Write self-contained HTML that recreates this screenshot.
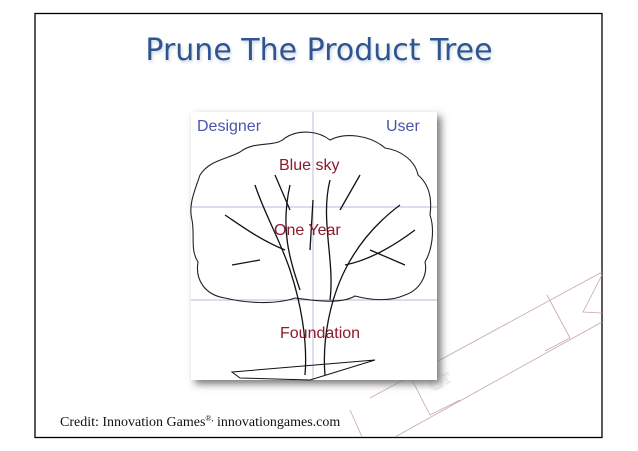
<!DOCTYPE html>
<html><head><style>
body{margin:0;background:#fff;width:638px;height:451px;overflow:hidden;position:relative}
</style></head><body>
<svg width="638" height="451" style="position:absolute;left:0;top:0">
<defs><filter id="sh" x="-10%" y="-10%" width="130%" height="130%"><feGaussianBlur stdDeviation="4"/></filter>
<filter id="ts"><feGaussianBlur stdDeviation="1.5"/></filter></defs>
<rect x="35" y="13.5" width="567" height="424" fill="#fff" stroke="#000" stroke-width="1.3"/>
<!-- ribbon -->
<g fill="none" stroke="#c9a7a7" stroke-width="0.8">
<path d="M370 398 L602 272"/><path d="M395 437 L602 322"/>
<path d="M407 370 L430 415 L460 400"/><path d="M547 295 L570 338 L545 351"/>
<path d="M602 275 L583 312 L602 313"/>
<path d="M350 410 L362 437"/>
</g>
<text x="432" y="392" font-family="Liberation Serif,serif" font-size="22" fill="#fff" stroke="#ddd" stroke-width="0.5" transform="rotate(-28 432 392)">Or</text>
<!-- image shadow -->
<rect x="195" y="116" width="246" height="268" fill="#777" filter="url(#sh)"/>
<rect x="191" y="112" width="246" height="268" fill="#fff"/>
<!-- grid -->
<g stroke="#9aa0d0" stroke-width="0.7">
<line x1="313" y1="112" x2="313" y2="380"/><line x1="191" y1="207" x2="437" y2="207"/><line x1="191" y1="300" x2="437" y2="300"/>
</g>
<!-- canopy -->
<path d="M225 298 C205 295 195 280 198 262 C190 250 195 235 192 220 C188 205 195 190 200 175 C210 160 225 160 240 152 C255 140 275 148 285 138 C300 128 320 132 330 140 C345 132 370 135 385 148 C400 150 415 160 418 175 C430 185 432 200 430 215 C435 230 432 250 425 262 C428 275 420 290 405 295 C390 302 370 300 355 296 C340 305 310 300 295 298 C275 305 245 303 225 298Z" fill="none" stroke="#222" stroke-width="1.1"/>
<!-- trunk and branches -->
<g fill="none" stroke="#111" stroke-width="1.3">
<path d="M305 375 C308 340 300 300 290 270 C280 240 265 215 255 185"/>
<path d="M325 375 C322 340 330 300 345 270 C360 240 380 220 400 205"/>
<path d="M300 290 C290 260 280 230 290 185"/><path d="M330 300 C335 260 320 220 330 180"/>
<path d="M285 250 C260 240 240 225 225 215"/><path d="M345 265 C370 260 395 245 415 230"/>
<path d="M290 210 L275 175"/><path d="M340 210 L360 175"/><path d="M310 250 L313 200"/>
<path d="M260 260 L232 265"/><path d="M370 250 L405 265"/>
<path d="M232 372 L375 360 L310 380 L240 378Z" stroke-width="1"/>
</g>
<g font-family="Liberation Sans,sans-serif" font-size="16">
<text x="197" y="131" fill="#4a55b0">Designer</text>
<text x="386" y="131" fill="#4a55b0">User</text>
<text x="279" y="170" fill="#8b1a2b">Blue sky</text>
<text x="274" y="235" fill="#8b1a2b">One Year</text>
<text x="280" y="338" fill="#8b1a2b">Foundation</text>
</g>
<g font-family="'Comic Sans MS','DejaVu Sans',sans-serif" font-size="30" text-anchor="middle">
<text x="320" y="62" fill="#9ab" opacity="0.5" filter="url(#ts)">Prune The Product Tree</text>
<text x="319" y="60" fill="#2f5591">Prune The Product Tree</text>
</g>
<text x="60" y="426" font-family="Liberation Serif,serif" font-size="14" fill="#111">Credit: Innovation Games<tspan font-size="8" dy="-5">®,</tspan><tspan dy="5"> innovationgames.com</tspan></text>
</svg>
</body></html>
